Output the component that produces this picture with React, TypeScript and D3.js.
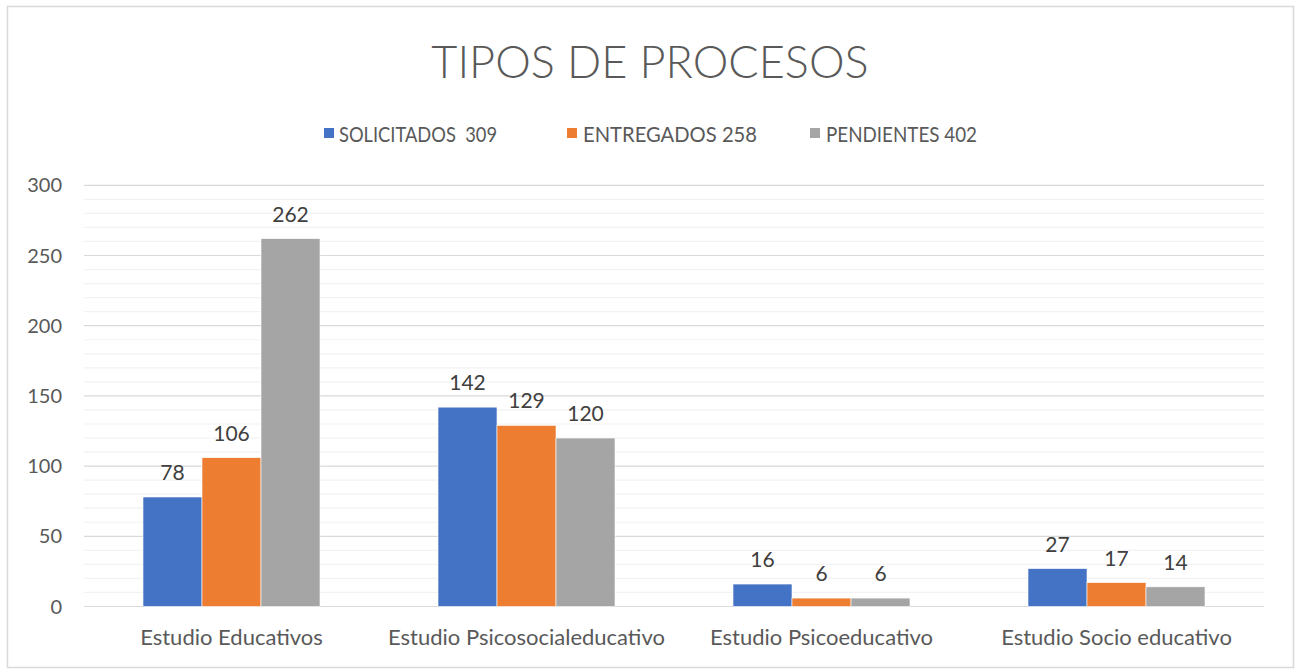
import React from "react";
import * as d3 from "d3";

const categories = ["Estudio Educativos", "Estudio Psicosocialeducativo", "Estudio Psicoeducativo", "Estudio Socio educativo"];
const seriesNames = ["SOLICITADOS  309", "ENTREGADOS 258", "PENDIENTES 402"];
const seriesColors = ["#4472C4", "#ED7D31", "#A5A5A5"];
const solicitados = [78, 142, 16, 27];
const entregados = [106, 129, 6, 17];
const pendientes = [262, 120, 6, 14];
const yTicks = [0, 50, 100, 150, 200, 250, 300];

const W = 1300, H = 669;
const FONT = "Lato, 'Open Sans', sans-serif";

export default function App() {
  const series = [solicitados, entregados, pendientes];
  const left = 84, right = 1264, top = 185.3, bottom = 606.5;
  const x0 = d3.scaleBand<string>().domain(categories).range([left, right]).paddingInner(0).paddingOuter(0);
  const bw = x0.bandwidth();
  const barW = bw / 5;
  const x1 = d3.scaleBand<number>().domain([0, 1, 2]).range([barW, barW * 4]);
  const y = d3.scaleLinear().domain([0, 300]).range([bottom, top]);
  const minor = d3.range(0, 301, 10).filter((v) => v % 50 !== 0);

  const legendItems = [
    { x: 324, tx: 339, len: 158 },
    { x: 567, tx: 583, len: 174 },
    { x: 810, tx: 826, len: 151 },
  ];

  return (
    <svg width={W} height={H} style={{ position: "absolute", left: 0, top: 0 }} fontFamily={FONT}>
      <rect x={0} y={0} width={W} height={H} fill="#fff" />
      <rect x={7.5} y={6.5} width={1286} height={661} fill="#fff" stroke="#d9d9d9" strokeWidth={1.5} />
      <text x={650} y={78} textAnchor="middle" fontSize={45} fontWeight={300} fill="#595959">TIPOS DE PROCESOS</text>
      {legendItems.map((l, i) => (
        <g key={i}>
          <rect x={l.x} y={128} width={10} height={10} fill={seriesColors[i]} />
          <text x={l.tx} y={141.5} fontSize={21} fill="#595959" xmlSpace="preserve" style={{ whiteSpace: "pre" }} textLength={l.len} lengthAdjust="spacingAndGlyphs">{seriesNames[i]}</text>
        </g>
      ))}
      {minor.map((v) => (
        <line key={"m" + v} x1={left} x2={right} y1={y(v)} y2={y(v)} stroke="#f2f2f2" strokeWidth={1.2} />
      ))}
      {yTicks.map((v) => (
        <line key={"g" + v} x1={left} x2={right} y1={y(v)} y2={y(v)} stroke="#d9d9d9" strokeWidth={1.2} />
      ))}
      {yTicks.map((v) => (
        <text key={"t" + v} x={62} y={y(v) + 7} textAnchor="end" fontSize={20} fill="#595959">{v}</text>
      ))}
      {categories.map((c, ci) => (
        <g key={c}>
          {series.map((s, si) => {
            const bx = (x0(c) as number) + (x1(si) as number);
            return (
              <g key={si}>
                <rect x={bx} y={y(s[ci])} width={x1.bandwidth()} height={bottom - y(s[ci])} fill={seriesColors[si]} stroke="#fff" strokeWidth={0.6} />
                <text x={bx + x1.bandwidth() / 2} y={y(s[ci]) - 17} textAnchor="middle" fontSize={21} fill="#404040">{s[ci]}</text>
              </g>
            );
          })}
          <text x={(x0(c) as number) + bw / 2} y={645} textAnchor="middle" fontSize={22} fill="#595959">{c}</text>
        </g>
      ))}
    </svg>
  );
}
